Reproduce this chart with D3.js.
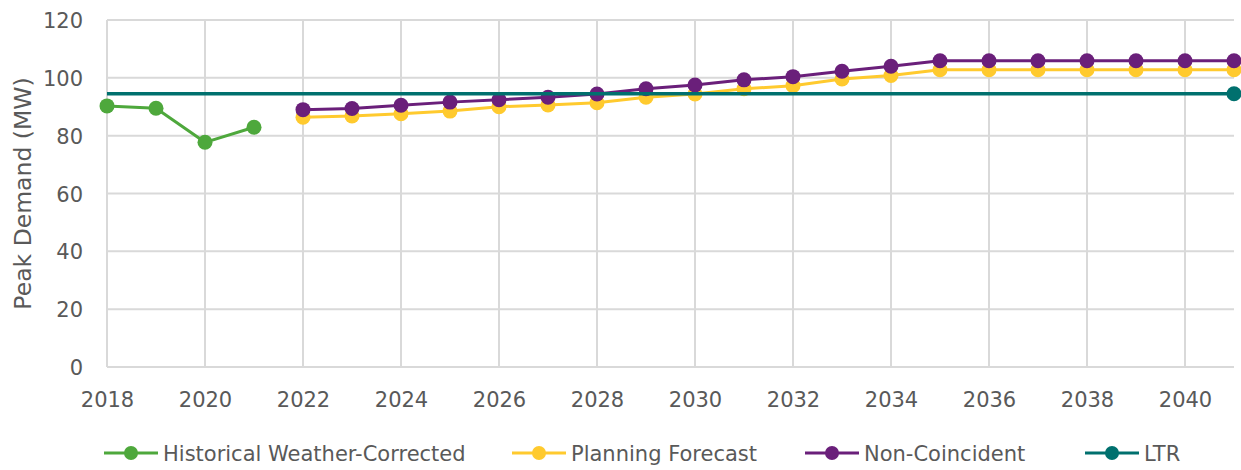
<!DOCTYPE html>
<html>
<head>
<meta charset="utf-8">
<script src="https://cdn.jsdelivr.net/npm/d3@7"></script>
<style>
  html, body { margin: 0; padding: 0; background: #fff; }
  svg { display: block; }
  text { font-family: "DejaVu Sans", sans-serif; fill: #595959; }
</style>
</head>
<body>
<svg id="chart" width="1241" height="470"></svg>
<script>
// ---- data ----
const histYears = [2018, 2019, 2020, 2021];
const histValues = [90.3, 89.5, 77.7, 82.9];

const forecastYears = [2022, 2023, 2024, 2025, 2026, 2027, 2028, 2029, 2030, 2031,
                       2032, 2033, 2034, 2035, 2036, 2037, 2038, 2039, 2040, 2041];
const planningValues = [86.4, 86.8, 87.6, 88.5, 90.0, 90.6, 91.4, 93.3, 94.4, 96.2,
                        97.3, 99.6, 100.8, 102.8, 102.8, 102.8, 102.8, 102.8, 102.8, 102.8];
const nonCoincidentValues = [89.0, 89.4, 90.5, 91.6, 92.4, 93.3, 94.4, 96.2, 97.5, 99.3,
                             100.4, 102.3, 104.0, 105.9, 105.9, 105.9, 105.9, 105.9, 105.9, 105.9];

const ltrYears = [2018, 2041];
const ltrValues = [94.5, 94.5];

const yTicks = [0, 20, 40, 60, 80, 100, 120];
const xTicks = [2018, 2020, 2022, 2024, 2026, 2028, 2030, 2032, 2034, 2036, 2038, 2040];

const seriesNames = ["Historical Weather-Corrected", "Planning Forecast", "Non-Coincident", "LTR"];
const seriesColors = ["#4ea83c", "#ffca2e", "#6a1f7a", "#00706e"];
const yTitle = "Peak Demand (MW)";

// ---- layout ----
const svg = d3.select("#chart");
const mLeft = 107, mRight = 1234, mTop = 20, mBottom = 367;

const x = d3.scaleLinear().domain([2018, 2041]).range([mLeft, mRight]);
const y = d3.scaleLinear().domain([0, 120]).range([mBottom, mTop]);

const grid = svg.append("g");
grid.selectAll("line.h").data(yTicks).join("line")
  .attr("class", "h")
  .attr("x1", mLeft).attr("x2", mRight)
  .attr("y1", d => y(d)).attr("y2", d => y(d))
  .attr("stroke", "#d9d9d9").attr("stroke-width", 2);
grid.selectAll("line.v").data(xTicks).join("line")
  .attr("class", "v")
  .attr("x1", d => x(d)).attr("x2", d => x(d))
  .attr("y1", mTop).attr("y2", mBottom)
  .attr("stroke", "#d9d9d9").attr("stroke-width", 2);

// axes (labels only)
const yAxis = d3.axisLeft(y).tickValues(yTicks).tickSize(0).tickPadding(0);
const yg = svg.append("g").attr("transform", `translate(${mLeft - 24},0)`).call(yAxis);
yg.select(".domain").remove();
yg.attr("font-family", null).attr("font-size", null);
yg.selectAll("text").attr("font-size", 21).attr("fill", "#595959").attr("dy", "0.36em");

const xAxis = d3.axisBottom(x).tickValues(xTicks).tickFormat(d3.format("d")).tickSize(0).tickPadding(0);
const xg = svg.append("g").attr("transform", `translate(0,407)`).call(xAxis);
xg.select(".domain").remove();
xg.attr("font-family", null).attr("font-size", null);
xg.selectAll("text").attr("font-size", 21).attr("fill", "#595959").attr("y", 0).attr("dy", 0);

svg.append("text")
  .attr("transform", `translate(31,${(mTop + mBottom) / 2}) rotate(-90)`)
  .attr("text-anchor", "middle")
  .attr("font-size", 23.5)
  .text(yTitle);

// ---- series ----
const line = d3.line().x(d => x(d[0])).y(d => y(d[1]));
const r = 7.5;

function drawSeries(years, values, color, markerFilter, width) {
  const pts = years.map((yr, i) => [yr, values[i]]);
  const g = svg.append("g");
  g.append("path").datum(pts).attr("d", line)
    .attr("fill", "none").attr("stroke", color).attr("stroke-width", width)
    .attr("stroke-linejoin", "round");
  g.selectAll("circle").data(pts.filter(markerFilter)).join("circle")
    .attr("cx", d => x(d[0])).attr("cy", d => y(d[1])).attr("r", r)
    .attr("fill", color);
}

drawSeries(histYears, histValues, seriesColors[0], () => true, 3);
drawSeries(forecastYears, planningValues, seriesColors[1], () => true, 3);
drawSeries(forecastYears, nonCoincidentValues, seriesColors[2], () => true, 3);
drawSeries(ltrYears, ltrValues, seriesColors[3], d => d[0] === ltrYears[ltrYears.length - 1], 3.5);

// ---- legend ----
const legendX = [104, 512, 805, 1085];
const legendY = 453;
const leg = svg.append("g");
seriesNames.forEach((name, i) => {
  const g = leg.append("g").attr("transform", `translate(${legendX[i]},${legendY})`);
  g.append("line").attr("x1", 0).attr("x2", 54).attr("y1", 0).attr("y2", 0)
    .attr("stroke", seriesColors[i]).attr("stroke-width", 3);
  g.append("circle").attr("cx", 27).attr("cy", 0).attr("r", 7).attr("fill", seriesColors[i]);
  g.append("text").attr("x", 59).attr("y", 0).attr("dy", "0.36em")
    .attr("font-size", 21).text(name);
});
</script>
</body>
</html>
